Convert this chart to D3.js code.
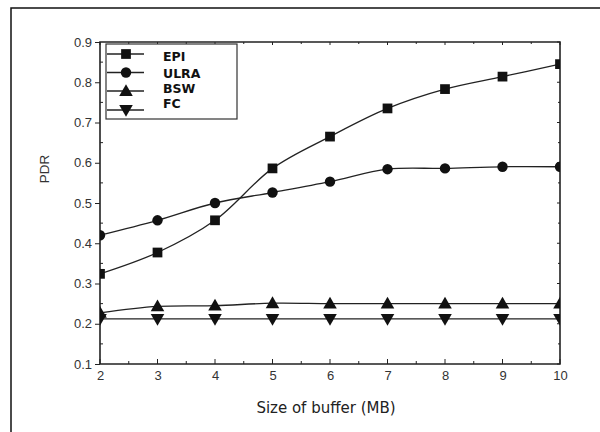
<!DOCTYPE html>
<html>
<head>
<meta charset="utf-8">
<script src="https://cdn.jsdelivr.net/npm/d3@7"></script>
<style>
  body { margin: 0; background: #fff; }
  svg { display: block; }
</style>
</head>
<body>
<div id="chart"></div>
<script>
// buffer sizes (MB)
var bufferSizes = [2, 3, 4, 5, 6, 7, 8, 9, 10];

// PDR values per protocol
var epiPDR  = [0.324, 0.377, 0.457, 0.586, 0.665, 0.735, 0.783, 0.814, 0.845];
var ulraPDR = [0.420, 0.457, 0.500, 0.526, 0.553, 0.584, 0.586, 0.590, 0.590];
var bswPDR  = [0.227, 0.243, 0.245, 0.251, 0.250, 0.250, 0.250, 0.250, 0.250];
var fcPDR   = [0.212, 0.212, 0.212, 0.212, 0.212, 0.212, 0.212, 0.212, 0.212];

var seriesNames = ['EPI', 'ULRA', 'BSW', 'FC'];
var yTicks = [0.1, 0.2, 0.3, 0.4, 0.5, 0.6, 0.7, 0.8, 0.9];
var xTicks = [2, 3, 4, 5, 6, 7, 8, 9, 10];

var W = 600, H = 432;
var plot = {left: 100, right: 560, top: 42, bottom: 364};

var svg = d3.select('#chart').append('svg')
  .attr('width', W)
  .attr('height', H);

// outer frame (cropped on the right/bottom)
svg.append('rect')
  .attr('x', 11).attr('y', 8)
  .attr('width', 620).attr('height', 440)
  .attr('fill', 'none')
  .attr('stroke', '#111')
  .attr('stroke-width', 1.5);

var x = d3.scaleLinear().domain([2, 10]).range([plot.left, plot.right]);
var y = d3.scaleLinear().domain([0.1, 0.9]).range([plot.bottom, plot.top]);

svg.append('defs').append('clipPath')
  .attr('id', 'plotClip')
  .append('rect')
    .attr('x', plot.left).attr('y', plot.top)
    .attr('width', plot.right - plot.left)
    .attr('height', plot.bottom - plot.top);

// AXES
var minorX = d3.range(2.5, 10, 1);
var minorY = d3.range(0.15, 0.9, 0.1);

var xAxis = svg.append('g')
  .attr('transform', 'translate(0,' + plot.bottom + ')')
  .call(d3.axisBottom(x).tickValues(xTicks).tickSize(0).tickPadding(7).tickFormat(d3.format('d')));
xAxis.select('.domain').remove();
xAxis.selectAll('text')
  .attr('font-family', 'Liberation Sans, Arial, sans-serif')
  .attr('font-size', 13)
  .attr('fill', '#333');

var yAxis = svg.append('g')
  .attr('transform', 'translate(' + plot.left + ',0)')
  .call(d3.axisLeft(y).tickValues(yTicks).tickSize(5).tickPadding(3).tickFormat(d3.format('.1f')));
yAxis.select('.domain').remove();
yAxis.selectAll('line').attr('stroke', '#222');
yAxis.selectAll('text')
  .attr('font-family', 'Liberation Sans, Arial, sans-serif')
  .attr('font-size', 13)
  .attr('fill', '#333');

var ticks = svg.append('g').attr('stroke', '#222').attr('stroke-width', 1);
// x ticks pointing inward (bottom and top)
xTicks.forEach(function(d) {
  ticks.append('line').attr('x1', x(d)).attr('x2', x(d)).attr('y1', plot.bottom).attr('y2', plot.bottom - 5);
  ticks.append('line').attr('x1', x(d)).attr('x2', x(d)).attr('y1', plot.top).attr('y2', plot.top + 3);
});
minorX.forEach(function(d) {
  ticks.append('line').attr('x1', x(d)).attr('x2', x(d)).attr('y1', plot.bottom).attr('y2', plot.bottom - 3);
  ticks.append('line').attr('x1', x(d)).attr('x2', x(d)).attr('y1', plot.top).attr('y2', plot.top + 2);
});
minorY.forEach(function(d) {
  ticks.append('line').attr('x1', plot.left).attr('x2', plot.left + 3).attr('y1', y(d)).attr('y2', y(d));
  ticks.append('line').attr('x1', plot.right).attr('x2', plot.right - 2).attr('y1', y(d)).attr('y2', y(d));
});
yTicks.forEach(function(d) {
  ticks.append('line').attr('x1', plot.right).attr('x2', plot.right - 3).attr('y1', y(d)).attr('y2', y(d));
});

// plot frame
svg.append('path')
  .attr('d', 'M' + plot.left + ',' + plot.top + 'V' + plot.bottom + 'H' + plot.right + 'V' + plot.top + 'Z')
  .attr('fill', 'none')
  .attr('stroke', '#222')
  .attr('stroke-width', 1.6);

// AXIS TITLES
svg.append('text')
  .attr('x', 326).attr('y', 413)
  .attr('text-anchor', 'middle')
  .attr('font-family', 'DejaVu Sans, Verdana, sans-serif')
  .attr('font-size', 15)
  .attr('fill', '#222')
  .text('Size of buffer (MB)');

svg.append('text')
  .attr('transform', 'translate(49,169) rotate(-90)')
  .attr('text-anchor', 'middle')
  .attr('font-family', 'Liberation Sans, Arial, sans-serif')
  .attr('font-size', 13.5)
  .attr('fill', '#333')
  .text('PDR');

// MARKERS
var sym = [d3.symbolSquare, d3.symbolCircle, d3.symbolTriangle, d3.symbolTriangle];
var symSize = [95, 85, 80, 80];
var symRot = [0, 0, 0, 180];

function marker(g, i, cx, cy) {
  g.append('path')
    .attr('d', d3.symbol().type(sym[i]).size(symSize[i])())
    .attr('transform', 'translate(' + cx + ',' + (cy + (i === 2 ? 1 : i === 3 ? -1 : 0)) + ') rotate(' + symRot[i] + ')')
    .attr('fill', '#111');
}

// LINES
var allSeries = [epiPDR, ulraPDR, bswPDR, fcPDR];
var line = d3.line()
  .x(function(d, i) { return x(bufferSizes[i]); })
  .y(function(d) { return y(d); })
  .curve(d3.curveCatmullRom.alpha(0.5));

var plotG = svg.append('g').attr('clip-path', 'url(#plotClip)');
allSeries.forEach(function(vals, s) {
  plotG.append('path')
    .datum(vals)
    .attr('d', line)
    .attr('fill', 'none')
    .attr('stroke', '#222')
    .attr('stroke-width', 1.3);
});
allSeries.forEach(function(vals, s) {
  vals.forEach(function(v, i) {
    marker(plotG, s, x(bufferSizes[i]), y(v));
  });
});

// LEGEND
var legend = svg.append('g');
legend.append('rect')
  .attr('x', 106).attr('y', 44)
  .attr('width', 131).attr('height', 75)
  .attr('fill', '#fff')
  .attr('stroke', '#333')
  .attr('stroke-width', 1.2);

var legMarkY = [54, 72.5, 91, 110];
var legTextY = [57, 73.5, 89, 104];
seriesNames.forEach(function(name, i) {
  legend.append('line')
    .attr('x1', 107).attr('x2', 144)
    .attr('y1', legMarkY[i]).attr('y2', legMarkY[i])
    .attr('stroke', '#222').attr('stroke-width', 1.3);
  marker(legend, i, 126, legMarkY[i]);
  legend.append('text')
    .attr('x', 163).attr('y', legTextY[i])
    .attr('dy', '0.35em')
    .attr('font-family', 'DejaVu Sans, Verdana, sans-serif')
    .attr('font-weight', 'bold')
    .attr('font-size', 12.5)
    .attr('fill', '#111')
    .text(name);
});
</script>
</body>
</html>
